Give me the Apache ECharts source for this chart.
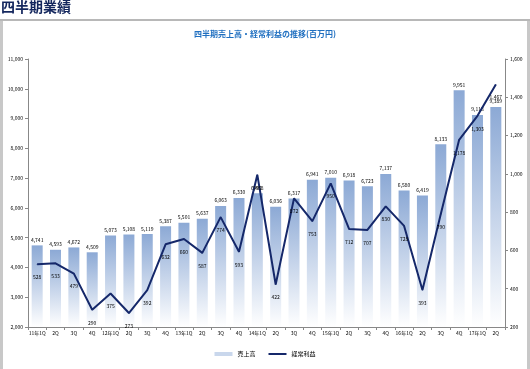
<!DOCTYPE html>
<html><head><meta charset="utf-8">
<script src="https://cdn.jsdelivr.net/npm/echarts@6/dist/echarts.min.js"></script>
<style>html,body{margin:0;padding:0;background:#fff;}#c{width:530px;height:369px;}</style>
</head><body><div id="c"></div>
<script>
const categories = ['11年1Q','2Q','3Q','4Q','12年1Q','2Q','3Q','4Q','13年1Q','2Q','3Q','4Q','14年1Q','2Q','3Q','4Q','15年1Q','2Q','3Q','4Q','16年1Q','2Q','3Q','4Q','17年1Q','2Q'];
const sales = [4741,4593,4672,4509,5073,5108,5119,5387,5501,5637,6063,6330,6488,6036,6317,6941,7010,6918,6723,7137,6580,6419,8133,9951,9118,9389];
const profit = [528,533,479,290,375,273,392,632,660,587,774,593,995,422,872,753,950,712,707,830,728,393,790,1178,1303,1467];
const leftTicks = {min:2000, max:11000, interval:1000};
const rightTicks = {min:200, max:1600, interval:200};

const chart = echarts.init(document.getElementById('c'));
const fmt = v => v.toLocaleString('en-US');
chart.setOption({
  animation:false,
  textStyle:{fontFamily:'Noto Sans CJK JP'},
  title:[
    {text:'四半期業績',left:1,top:0,padding:0,textStyle:{fontSize:14,fontWeight:'bold',color:'#14275e',fontFamily:'Noto Sans CJK JP'}},
    {text:'四半期売上高・経常利益の推移(百万円)',left:'center',top:30,padding:0,textStyle:{fontSize:8,fontWeight:'bold',color:'#1f6fc0',fontFamily:'Noto Sans CJK JP'}}
  ],
  graphic:[
    {type:'rect',shape:{x:0,y:19,width:530,height:2},style:{fill:'#b8b8b8'}},
    {type:'rect',shape:{x:0,y:21,width:3,height:348},style:{fill:'#c8c8c8'}},
    {type:'rect',shape:{x:527,y:21,width:3,height:348},style:{fill:'#c8c8c8'}}
  ],
  legend:{bottom:7,left:'center',itemWidth:18,itemHeight:4,itemGap:12,textStyle:{fontSize:6,color:'#000'},
    data:[{name:'売上高',icon:'rect',itemStyle:{color:'#c9d7ec'}},{name:'経常利益',itemStyle:{opacity:0}}]},
  grid:{left:28,right:25,top:59,bottom:42},
  xAxis:{type:'category',data:categories,
    axisLine:{lineStyle:{color:'#888'}},axisTick:{show:true,alignWithLabel:false,length:3,lineStyle:{color:'#888'}},
    axisLabel:{fontSize:5,color:'#000',interval:0,margin:4}},
  yAxis:[
    {type:'value',min:leftTicks.min,max:leftTicks.max,interval:leftTicks.interval,position:'left',
     axisLine:{show:true,lineStyle:{color:'#888'}},axisTick:{show:true,length:3,lineStyle:{color:'#888'}},
     splitLine:{show:false},axisLabel:{fontSize:5,color:'#000',formatter:fmt,margin:5}},
    {type:'value',min:rightTicks.min,max:rightTicks.max,interval:rightTicks.interval,position:'right',
     axisLine:{show:true,lineStyle:{color:'#888'}},axisTick:{show:true,length:3,lineStyle:{color:'#888'}},
     splitLine:{show:false},axisLabel:{fontSize:5,color:'#000',formatter:fmt,margin:5}}
  ],
  series:[
    {name:'売上高',type:'bar',data:sales,barWidth:'60%',yAxisIndex:0,
     itemStyle:{color:new echarts.graphic.LinearGradient(0,0,0,1,[{offset:0,color:'#8ca9d5'},{offset:1,color:'#ffffff'}])},
     label:{show:true,position:'top',fontSize:5,color:'#000',formatter:p=>fmt(p.value),distance:3}},
    {name:'経常利益',type:'line',data:profit,yAxisIndex:1,symbol:'circle',symbolSize:1,showSymbol:true,
     lineStyle:{color:'#15286a',width:2},itemStyle:{color:'#15286a'},z:5,
     label:{show:true,position:'bottom',fontSize:5,color:'#000',formatter:p=>fmt(p.value),distance:10}}
  ]
});
</script></body></html>
